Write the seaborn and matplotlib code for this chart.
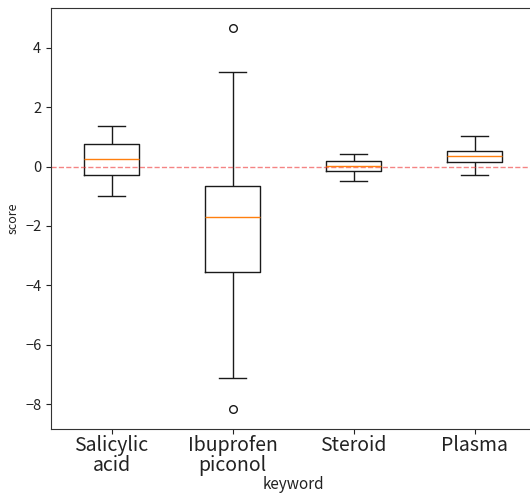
import matplotlib
matplotlib.use("Agg")
import matplotlib.pyplot as plt
import seaborn as sns
import pandas as pd

plt.rcParams['font.family'] = ['Noto Sans CJK KR', 'DejaVu Sans']

categories = ["Salicylic\nacid", "Ibuprofen\npiconol", "Steroid", "Plasma"]
salicylic = [-1.00, -0.30, 0.27, 0.77, 1.38]
ibuprofen = [-8.17, -7.13, -3.56, -3.56, -1.71, -0.64, -0.64, 3.19, 4.67]
steroid = [-0.49, -0.16, 0.03, 0.19, 0.43]
plasma = [-0.28, 0.16, 0.37, 0.53, 1.02]

rows = []
for cat, vals in zip(categories, [salicylic, ibuprofen, steroid, plasma]):
    for v in vals:
        rows.append({"keyword": cat, "score": v})
df = pd.DataFrame(rows)

fig = plt.figure(figsize=(5.30, 4.96), dpi=100)
ax = fig.add_axes([51 / 530, (496 - 429) / 496, 484 / 530, 421 / 496])

sns.boxplot(
    data=df, x="keyword", y="score", order=categories, ax=ax,
    fill=False, color="#1a1a1a", width=0.45, linewidth=1.0,
    medianprops=dict(color="#ff7f0e", linewidth=1.0),
    flierprops=dict(marker="o", markerfacecolor="none", markeredgecolor="#1a1a1a",
                    markersize=5.5, markeredgewidth=1.0),
    whis=1.5,
)
ax.axhline(0, color="#ee3333", linestyle="--", alpha=0.6, linewidth=1.0)

ax.set_xlim(-0.5, 3.5)
ax.set_ylim(-8.84, 5.34)
ax.set_yticks([-8, -6, -4, -2, 0, 2, 4])
ax.tick_params(axis="x", labelsize=14, colors="#222222", pad=1)
ax.tick_params(axis="y", labelsize=10.5, colors="#222222")
for lab in ax.get_xticklabels():
    lab.set_linespacing(0.95)
ax.set_xlabel("keyword", fontsize=11, color="#222222", labelpad=0)
ax.set_ylabel("score", fontsize=9, color="#222222")
for s in ax.spines.values():
    s.set_color("#333333")
ax.spines["right"].set_visible(False)

fig.savefig("out.png", dpi=100)
